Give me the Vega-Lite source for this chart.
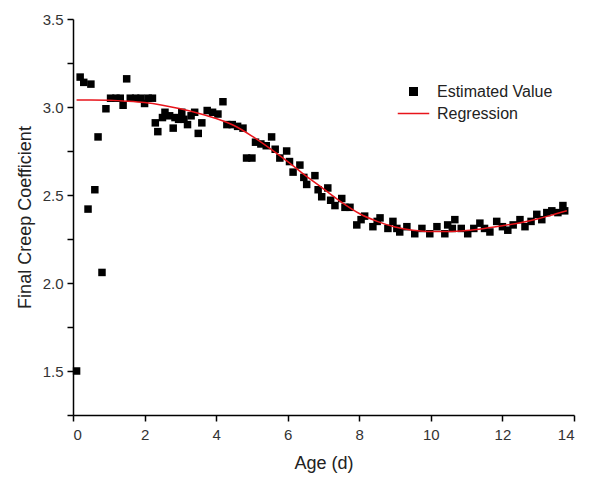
{
  "$schema": "https://vega.github.io/schema/vega-lite/v6.json",
  "width": 501,
  "height": 396,
  "autosize": "none",
  "padding": {"left": 73, "top": 19, "right": 15, "bottom": 65},
  "background": "white",
  "config": {
    "view": {"stroke": null},
    "font": "Liberation Sans",
    "axis": {
      "grid": false,
      "domainColor": "#000",
      "domainWidth": 1.5,
      "tickColor": "#000",
      "tickWidth": 1.5,
      "tickSize": 6,
      "labelFont": "Liberation Sans",
      "labelFontSize": 15,
      "labelColor": "#333",
      "titleFont": "Liberation Sans",
      "titleFontSize": 18,
      "titleFontWeight": "normal",
      "titleColor": "#222"
    },
    "legend": {
      "labelFont": "Liberation Sans",
      "labelFontSize": 16,
      "labelColor": "#222"
    }
  },
  "layer": [
    {
      "data": {"values": [
        {"age": 0.1, "coef": 1.50}, {"age": 0.2, "coef": 3.17}, {"age": 0.3, "coef": 3.14}, {"age": 0.42, "coef": 2.42},
        {"age": 0.5, "coef": 3.13}, {"age": 0.61, "coef": 2.53}, {"age": 0.7, "coef": 2.83}, {"age": 0.81, "coef": 2.06},
        {"age": 0.92, "coef": 2.99}, {"age": 1.05, "coef": 3.05}, {"age": 1.2, "coef": 3.05}, {"age": 1.32, "coef": 3.05},
        {"age": 1.4, "coef": 3.01}, {"age": 1.5, "coef": 3.16}, {"age": 1.6, "coef": 3.05}, {"age": 1.75, "coef": 3.05},
        {"age": 1.9, "coef": 3.05}, {"age": 2.0, "coef": 3.02}, {"age": 2.1, "coef": 3.05}, {"age": 2.22, "coef": 3.05},
        {"age": 2.3, "coef": 2.91}, {"age": 2.37, "coef": 2.86}, {"age": 2.5, "coef": 2.94}, {"age": 2.57, "coef": 2.97},
        {"age": 2.7, "coef": 2.95}, {"age": 2.8, "coef": 2.88}, {"age": 2.85, "coef": 2.94}, {"age": 2.95, "coef": 2.93},
        {"age": 3.04, "coef": 2.97}, {"age": 3.1, "coef": 2.93}, {"age": 3.2, "coef": 2.9}, {"age": 3.3, "coef": 2.95},
        {"age": 3.4, "coef": 2.97}, {"age": 3.5, "coef": 2.85}, {"age": 3.6, "coef": 2.91}, {"age": 3.75, "coef": 2.98},
        {"age": 3.9, "coef": 2.97}, {"age": 4.05, "coef": 2.96}, {"age": 4.19, "coef": 3.03}, {"age": 4.3, "coef": 2.9},
        {"age": 4.45, "coef": 2.9}, {"age": 4.6, "coef": 2.89}, {"age": 4.75, "coef": 2.88}, {"age": 4.85, "coef": 2.71},
        {"age": 5.0, "coef": 2.71}, {"age": 5.1, "coef": 2.8}, {"age": 5.25, "coef": 2.79}, {"age": 5.4, "coef": 2.78},
        {"age": 5.55, "coef": 2.83}, {"age": 5.65, "coef": 2.76}, {"age": 5.78, "coef": 2.71}, {"age": 5.97, "coef": 2.75},
        {"age": 6.05, "coef": 2.69}, {"age": 6.15, "coef": 2.63}, {"age": 6.34, "coef": 2.67}, {"age": 6.45, "coef": 2.6},
        {"age": 6.53, "coef": 2.56}, {"age": 6.76, "coef": 2.61}, {"age": 6.85, "coef": 2.53}, {"age": 6.95, "coef": 2.49},
        {"age": 7.12, "coef": 2.54}, {"age": 7.2, "coef": 2.47}, {"age": 7.32, "coef": 2.44}, {"age": 7.51, "coef": 2.48},
        {"age": 7.6, "coef": 2.43}, {"age": 7.74, "coef": 2.43}, {"age": 7.93, "coef": 2.33}, {"age": 8.05, "coef": 2.36},
        {"age": 8.15, "coef": 2.38}, {"age": 8.38, "coef": 2.32}, {"age": 8.5, "coef": 2.35}, {"age": 8.58, "coef": 2.37},
        {"age": 8.8, "coef": 2.31}, {"age": 8.94, "coef": 2.35}, {"age": 9.05, "coef": 2.31}, {"age": 9.13, "coef": 2.29},
        {"age": 9.33, "coef": 2.32}, {"age": 9.55, "coef": 2.28}, {"age": 9.75, "coef": 2.31}, {"age": 9.97, "coef": 2.28},
        {"age": 10.17, "coef": 2.32}, {"age": 10.39, "coef": 2.28}, {"age": 10.47, "coef": 2.33}, {"age": 10.6, "coef": 2.31},
        {"age": 10.67, "coef": 2.36}, {"age": 10.85, "coef": 2.31}, {"age": 11.03, "coef": 2.28}, {"age": 11.2, "coef": 2.31},
        {"age": 11.37, "coef": 2.34}, {"age": 11.5, "coef": 2.31}, {"age": 11.65, "coef": 2.29}, {"age": 11.84, "coef": 2.35},
        {"age": 12.0, "coef": 2.32}, {"age": 12.15, "coef": 2.3}, {"age": 12.3, "coef": 2.33}, {"age": 12.49, "coef": 2.36},
        {"age": 12.63, "coef": 2.32}, {"age": 12.8, "coef": 2.35}, {"age": 12.96, "coef": 2.39}, {"age": 13.1, "coef": 2.36},
        {"age": 13.24, "coef": 2.4}, {"age": 13.38, "coef": 2.41}, {"age": 13.55, "coef": 2.4}, {"age": 13.69, "coef": 2.44},
        {"age": 13.74, "coef": 2.41}
      ]},
      "transform": [{"calculate": "'Estimated Value'", "as": "series"}],
      "mark": {"type": "point", "filled": true, "opacity": 1, "size": 225},
      "encoding": {
        "x": {
          "field": "age", "type": "quantitative",
          "scale": {"domain": [0, 14], "nice": false, "zero": false},
          "axis": {
            "title": "Age (d)",
            "values": [0,1,2,3,4,5,6,7,8,9,10,11,12,13,14],
            "labelExpr": "datum.value % 2 === 0 ? datum.label : ''",
            "labelPadding": 6,
            "titlePadding": 12,
            "encode": {"ticks": {"update": {"y2": {"signal": "datum.value % 2 === 0 ? 6 : 3"}}}}
          }
        },
        "y": {
          "field": "coef", "type": "quantitative",
          "scale": {"domain": [1.25, 3.5], "nice": false, "zero": false},
          "axis": {
            "title": "Final Creep Coefficient",
            "values": [1.25,1.5,1.75,2.0,2.25,2.5,2.75,3.0,3.25,3.5],
            "labelExpr": "datum.value % 0.5 === 0 ? format(datum.value, '.1f') : ''",
            "labelPadding": 4,
            "titlePadding": 8,
            "encode": {"ticks": {"update": {"x2": {"signal": "datum.value % 0.5 === 0 ? -6 : -3"}}}}
          }
        },
        "color": {
          "field": "series", "type": "nominal",
          "scale": {"domain": ["Estimated Value", "Regression"], "range": ["#000000", "#e8141b"]},
          "legend": {
            "title": null,
            "orient": "none",
            "legendX": 332,
            "legendY": 64,
            "symbolSize": 225,
            "symbolStrokeWidth": 1.5,
            "labelOffset": 15,
            "rowPadding": 5,
            "padding": 0,
            "encode": {"symbols": {"update": {"stroke": {"scale": "color", "field": "value"}}}}
          }
        },
        "shape": {
          "field": "series", "type": "nominal",
          "scale": {"domain": ["Estimated Value", "Regression"], "range": ["M-0.5,-0.5H0.5V0.5H-0.5Z", "M-2.1,0H2.1"]},
          "legend": {
            "title": null,
            "orient": "none",
            "legendX": 332,
            "legendY": 64,
            "symbolSize": 225,
            "symbolStrokeWidth": 1.5,
            "labelOffset": 15,
            "rowPadding": 5,
            "padding": 0,
            "encode": {"symbols": {"update": {"stroke": {"scale": "color", "field": "value"}}}}
          }
        }
      }
    },
    {
      "data": {"values": [
        {"age": 0.1, "coef": 3.04}, {"age": 0.5, "coef": 3.04}, {"age": 1.0, "coef": 3.038}, {"age": 1.5, "coef": 3.033},
        {"age": 2.0, "coef": 3.025}, {"age": 2.5, "coef": 3.01}, {"age": 3.0, "coef": 2.99}, {"age": 3.5, "coef": 2.965},
        {"age": 4.0, "coef": 2.935}, {"age": 4.5, "coef": 2.895}, {"age": 5.0, "coef": 2.835}, {"age": 5.5, "coef": 2.765},
        {"age": 6.0, "coef": 2.69}, {"age": 6.5, "coef": 2.61}, {"age": 7.0, "coef": 2.535}, {"age": 7.5, "coef": 2.46},
        {"age": 8.0, "coef": 2.395}, {"age": 8.5, "coef": 2.35}, {"age": 9.0, "coef": 2.318}, {"age": 9.5, "coef": 2.3},
        {"age": 10.0, "coef": 2.292}, {"age": 10.5, "coef": 2.292}, {"age": 11.0, "coef": 2.298}, {"age": 11.5, "coef": 2.31},
        {"age": 12.0, "coef": 2.325}, {"age": 12.5, "coef": 2.342}, {"age": 13.0, "coef": 2.365}, {"age": 13.5, "coef": 2.393},
        {"age": 13.8, "coef": 2.41}
      ]},
      "transform": [{"calculate": "'Regression'", "as": "series"}],
      "mark": {"type": "line", "strokeWidth": 1.5, "interpolate": "monotone"},
      "encoding": {
        "x": {"field": "age", "type": "quantitative"},
        "y": {"field": "coef", "type": "quantitative"},
        "color": {"field": "series", "type": "nominal"}
      }
    }
  ]
}
